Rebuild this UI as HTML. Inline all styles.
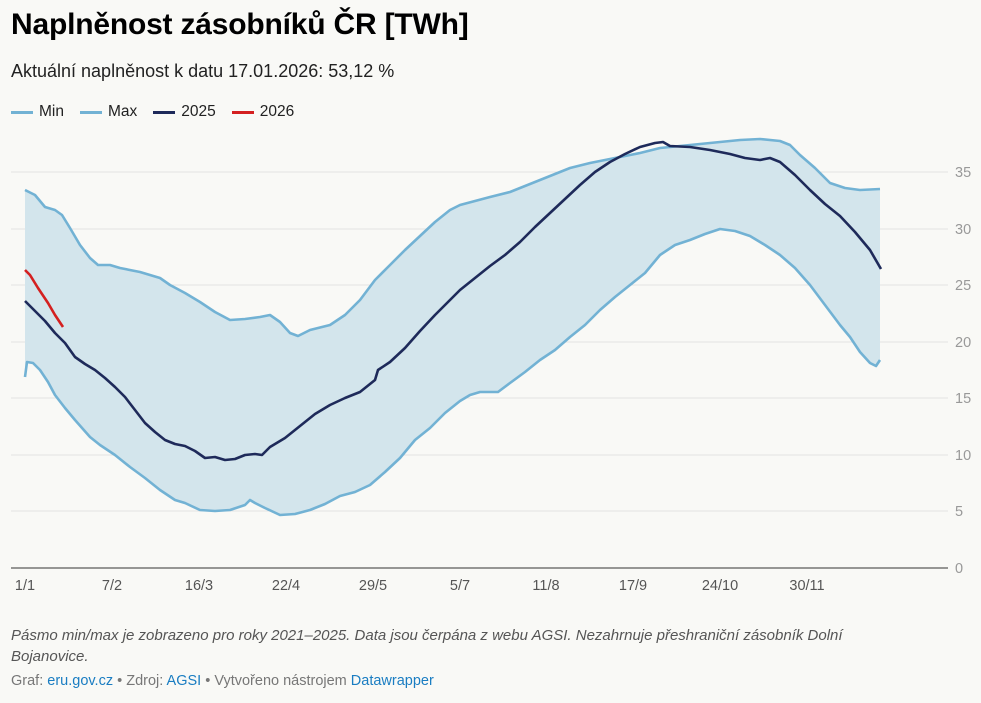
<!DOCTYPE html>
<html><head><meta charset="utf-8"><style>
body{margin:0;background:#f9f9f6;width:981px;height:703px;overflow:hidden;font-family:"Liberation Sans",sans-serif;color:#222;position:relative}
.t{position:absolute;left:11px;top:8px;font-size:30px;font-weight:bold;color:#000;letter-spacing:-0.2px}
.s{position:absolute;left:11px;top:61px;font-size:18px;color:#222}
.lg{position:absolute;left:11px;top:103px;font-size:15.5px;color:#222;display:flex;gap:16px}
.lg span{display:flex;align-items:center}
.lg i{display:inline-block;width:22px;height:3px;margin-right:6px}
.f{position:absolute;left:11px;top:625px;font-size:15px;font-style:italic;color:#555;line-height:21px;width:900px}
.g{position:absolute;left:11px;top:673px;font-size:14.5px;color:#777}
.g a{color:#1a7dc2;text-decoration:none}
</style></head><body>
<div class="t">Naplněnost zásobníků ČR [TWh]</div>
<div class="s">Aktuální naplněnost k datu 17.01.2026: 53,12 %</div>
<div class="lg"><span><i style="background:#72b2d4"></i>Min</span><span><i style="background:#72b2d4"></i>Max</span><span><i style="background:#1e2a5a"></i>2025</span><span><i style="background:#d42020"></i>2026</span></div>
<svg style="position:absolute;left:0;top:0" width="981" height="703">
<g stroke="#e2e2e2" stroke-width="1">
<line x1="11" y1="511" x2="948" y2="511"/><line x1="11" y1="455" x2="948" y2="455"/><line x1="11" y1="398" x2="948" y2="398"/><line x1="11" y1="342" x2="948" y2="342"/><line x1="11" y1="285" x2="948" y2="285"/><line x1="11" y1="229" x2="948" y2="229"/><line x1="11" y1="172" x2="948" y2="172"/>
</g>
<line x1="11" y1="568" x2="948" y2="568" stroke="#333" stroke-width="1"/>
<g font-size="14.5" fill="#999" text-anchor="start" font-family="Liberation Sans">
<text x="955" y="573">0</text><text x="955" y="516">5</text><text x="955" y="460">10</text><text x="955" y="403">15</text><text x="955" y="347">20</text><text x="955" y="290">25</text><text x="955" y="234">30</text><text x="955" y="177">35</text>
</g>
<g font-size="14.5" fill="#555" text-anchor="middle" font-family="Liberation Sans">
<text x="25" y="590">1/1</text><text x="112" y="590">7/2</text><text x="199" y="590">16/3</text><text x="286" y="590">22/4</text><text x="373" y="590">29/5</text><text x="460" y="590">5/7</text><text x="546" y="590">11/8</text><text x="633" y="590">17/9</text><text x="720" y="590">24/10</text><text x="807" y="590">30/11</text>
</g>
<polygon fill="#d3e5ec" points="25,190 35,195 45,207 55,210 62,215 70,228 80,245 90,258 98,265 110,265 120,268 140,272 160,278 170,285 185,293 200,302 215,312 230,320 245,319 260,317 270,315 280,322 290,333 298,336 310,330 330,325 345,315 360,300 375,280 390,265 405,250 420,236 435,222 450,210 460,205 475,201 490,197 510,192 525,186 540,180 555,174 570,168 590,163 605,160 620,157 640,153 660,148 680,146 700,144 720,142 740,140 760,139 780,141 790,145 800,155 815,168 830,183 845,188 860,190 880,189 880,360 876,366 870,363 860,352 850,337 840,325 825,305 810,285 795,268 780,255 765,245 750,236 735,231 720,229 705,234 690,240 675,245 660,255 645,273 630,285 615,297 600,310 585,325 570,337 555,350 540,360 525,372 510,383 498,392 480,392 470,395 460,401 445,413 430,428 415,440 400,458 385,472 370,485 355,492 340,496 325,504 310,510 295,514 280,515 265,508 255,503 250,500 245,505 230,510 215,511 200,510 185,503 175,500 160,490 145,478 130,467 115,455 100,445 90,437 75,420 65,408 55,395 48,382 40,370 33,363 27,362 25,377"/>
<g fill="none" stroke-width="2.6" stroke-linejoin="round">
<polyline stroke="#72b2d4" points="25,190 35,195 45,207 55,210 62,215 70,228 80,245 90,258 98,265 110,265 120,268 140,272 160,278 170,285 185,293 200,302 215,312 230,320 245,319 260,317 270,315 280,322 290,333 298,336 310,330 330,325 345,315 360,300 375,280 390,265 405,250 420,236 435,222 450,210 460,205 475,201 490,197 510,192 525,186 540,180 555,174 570,168 590,163 605,160 620,157 640,153 660,148 680,146 700,144 720,142 740,140 760,139 780,141 790,145 800,155 815,168 830,183 845,188 860,190 880,189"/>
<polyline stroke="#72b2d4" points="25,377 27,362 33,363 40,370 48,382 55,395 65,408 75,420 90,437 100,445 115,455 130,467 145,478 160,490 175,500 185,503 200,510 215,511 230,510 245,505 250,500 255,503 265,508 280,515 295,514 310,510 325,504 340,496 355,492 370,485 385,472 400,458 415,440 430,428 445,413 460,401 470,395 480,392 498,392 510,383 525,372 540,360 555,350 570,337 585,325 600,310 615,297 630,285 645,273 660,255 675,245 690,240 705,234 720,229 735,231 750,236 765,245 780,255 795,268 810,285 825,305 840,325 850,337 860,352 870,363 876,366 880,360"/>
<polyline stroke="#1e2a5a" points="25,301 35,311 45,321 55,333 65,343 75,357 85,364 95,370 105,378 115,387 125,397 135,410 145,423 155,432 165,440 175,444 185,446 195,451 205,458 215,457 225,460 235,459 245,455 255,454 262,455 270,447 285,438 300,426 315,414 330,405 345,398 360,392 375,380 378,370 390,362 405,348 420,331 435,315 450,300 460,290 475,278 490,266 505,255 520,242 535,227 550,213 565,199 580,185 595,172 610,162 625,154 640,147 655,143 663,142 670,146 690,147 710,150 730,154 745,158 760,160 770,158 780,162 795,175 810,190 825,204 840,216 855,232 870,250 881,269"/>
<polyline stroke="#d42020" points="25,270 30,275 38,288 48,303 55,315 63,327"/>
</g>
</svg>
<div class="f">Pásmo min/max je zobrazeno pro roky 2021–2025. Data jsou čerpána z webu AGSI. Nezahrnuje přeshraniční zásobník Dolní Bojanovice.</div>
<div class="g">Graf: <a>eru.gov.cz</a> • Zdroj: <a>AGSI</a> • Vytvořeno nástrojem <a>Datawrapper</a></div>
</body></html>
